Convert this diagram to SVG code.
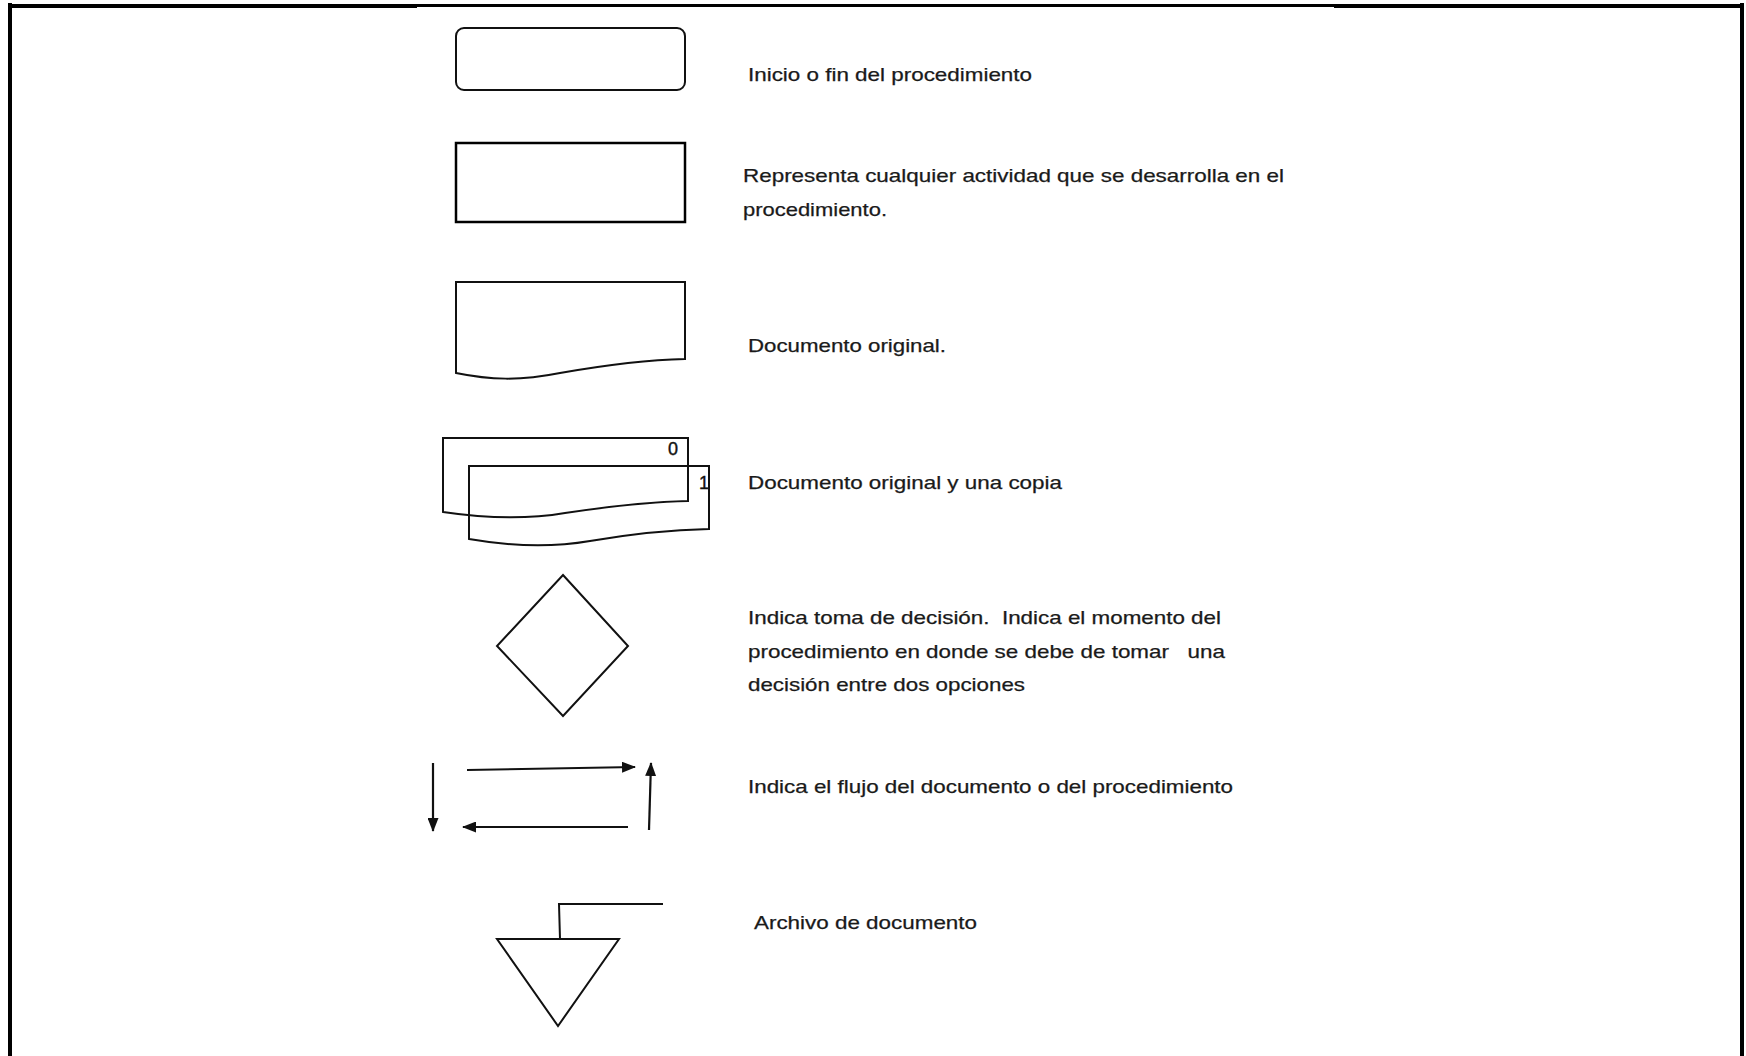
<svg xmlns="http://www.w3.org/2000/svg" width="1746" height="1056" viewBox="0 0 1746 1056" xml:space="preserve">
<style>
.shape{fill:none;stroke:#111;stroke-width:2}
.thick{fill:none;stroke:#000;stroke-width:2.5}
.lbl{font-family:"Liberation Sans",Arial,sans-serif;font-size:18.6px;fill:#1a1a1a;stroke:#1a1a1a;stroke-width:0.25;white-space:pre}
.num{font-family:"Liberation Sans",Arial,sans-serif;font-size:18px;fill:#111;stroke:#111;stroke-width:0.4}
.conn{fill:none;stroke:#111;stroke-width:2.2}
</style>
<defs>
<marker id="ah" markerWidth="14" markerHeight="11" refX="13" refY="5.5" orient="auto" markerUnits="userSpaceOnUse">
<path d="M0,0 L14,5.5 L0,11 Z" fill="#111"/>
</marker>
</defs>
<rect width="1746" height="1056" fill="#fff"/>
<g id="frame">
<line x1="8" y1="6" x2="417" y2="6" stroke="#000" stroke-width="4"/>
<line x1="417" y1="5.5" x2="1334" y2="5.5" stroke="#000" stroke-width="3"/>
<line x1="1334" y1="6" x2="1744" y2="6" stroke="#000" stroke-width="4"/>
<line x1="10" y1="3" x2="10" y2="1056" stroke="#000" stroke-width="4"/>
<line x1="1742" y1="3" x2="1742" y2="1056" stroke="#000" stroke-width="4"/>
</g>
<g id="terminal">
<rect class="shape" x="456" y="28" width="229" height="62" rx="8" ry="8"/>
<text class="lbl" x="748" y="81" textLength="284" lengthAdjust="spacingAndGlyphs">Inicio o fin del procedimiento</text>
</g>
<g id="process">
<rect class="thick" x="456" y="143" width="229" height="79"/>
<text class="lbl" x="743" y="182" textLength="541" lengthAdjust="spacingAndGlyphs">Representa cualquier actividad que se desarrolla en el</text>
<text class="lbl" x="743" y="216" textLength="144" lengthAdjust="spacingAndGlyphs">procedimiento.</text>
</g>
<g id="document">
<path class="shape" d="M456,282 H685 V359 C640,360 600,366 560,373 C520,381 490,380 456,373 Z"/>
<text class="lbl" x="748" y="352" textLength="198" lengthAdjust="spacingAndGlyphs">Documento original.</text>
</g>
<g id="document-copy">
<path class="shape" d="M443,438 H688 V501 C645,502 605,507 565,513 C530,519 490,519 443,512 Z"/>
<path class="shape" d="M469,466 H709 V529 C665,530 625,535 590,541 C555,547 515,547 469,539 Z"/>
<text class="num" x="673" y="455" text-anchor="middle">0</text>
<text class="num" x="704" y="489" text-anchor="middle">1</text>
<text class="lbl" x="748" y="489" textLength="314" lengthAdjust="spacingAndGlyphs">Documento original y una copia</text>
</g>
<g id="decision">
<path class="shape" d="M563,575 L628,646 L563,716 L497,646 Z"/>
<text class="lbl" x="748" y="624" textLength="473" lengthAdjust="spacingAndGlyphs">Indica toma de decisión.  Indica el momento del</text>
<text class="lbl" x="748" y="658" textLength="477" lengthAdjust="spacingAndGlyphs">procedimiento en donde se debe de tomar   una</text>
<text class="lbl" x="748" y="691" textLength="277" lengthAdjust="spacingAndGlyphs">decisión entre dos opciones</text>
</g>
<g id="connectors">
<line class="conn" x1="433" y1="763" x2="433" y2="831" marker-end="url(#ah)"/>
<line class="conn" x1="467" y1="770" x2="635" y2="767" marker-end="url(#ah)"/>
<line class="conn" x1="649" y1="830" x2="651" y2="763" marker-end="url(#ah)"/>
<line class="conn" x1="628" y1="827" x2="463" y2="827" marker-end="url(#ah)"/>
</g>
<g id="flow-label">
<text class="lbl" x="748" y="793" textLength="485" lengthAdjust="spacingAndGlyphs">Indica el flujo del documento o del procedimiento</text>
</g>
<g id="archive">
<path class="shape" d="M497,939 L619,939 L558,1026 Z"/>
<path class="shape" d="M560,939 L559,904 L663,904"/>
<text class="lbl" x="754" y="929" textLength="223" lengthAdjust="spacingAndGlyphs">Archivo de documento</text>
</g>
</svg>
